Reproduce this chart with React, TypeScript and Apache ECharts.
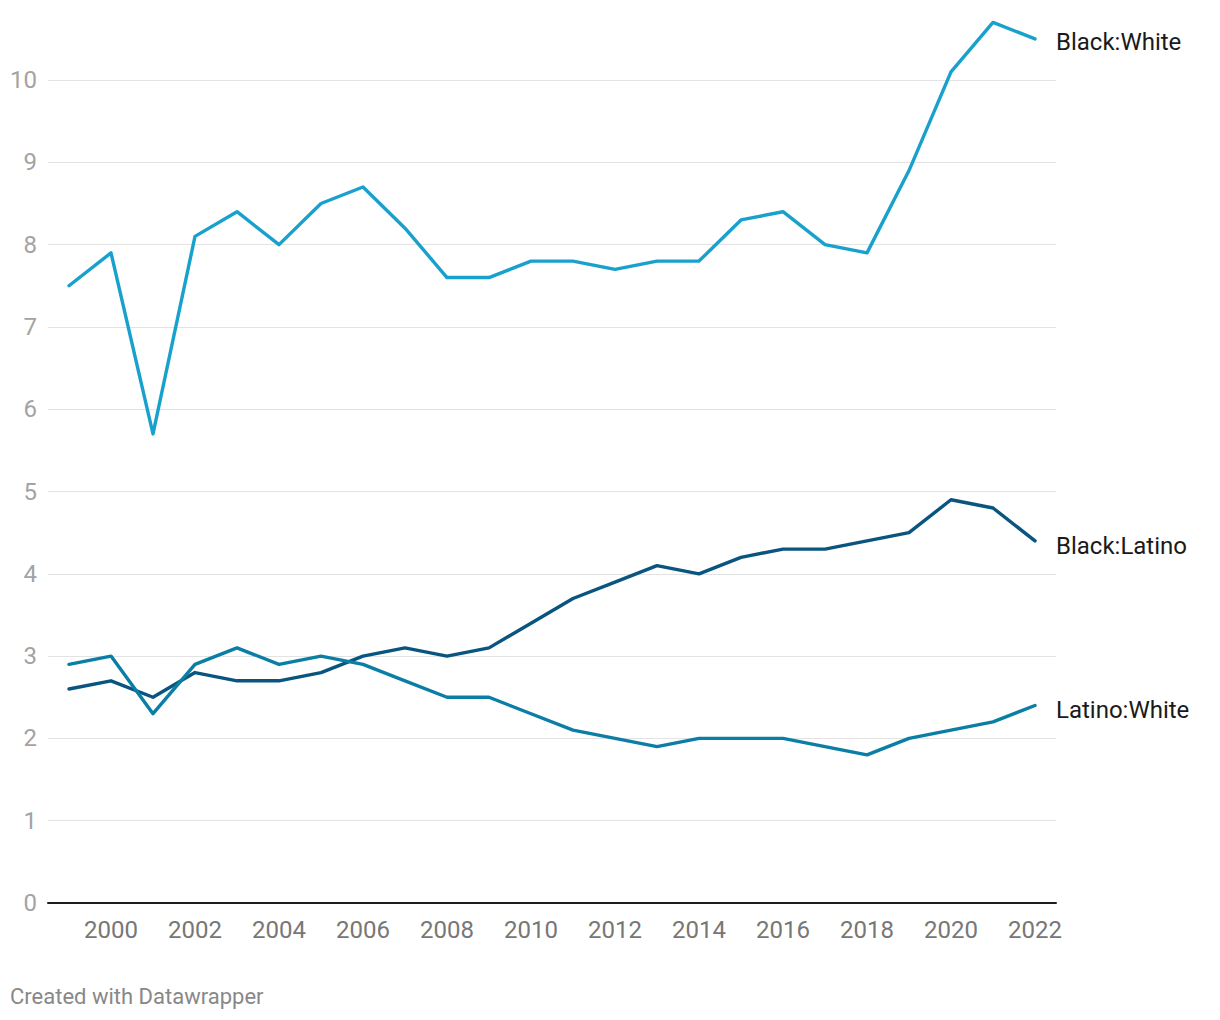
import React, { useEffect, useRef } from "react";
import * as echarts from "echarts";

const years = [1999, 2000, 2001, 2002, 2003, 2004, 2005, 2006, 2007, 2008, 2009, 2010, 2011, 2012, 2013, 2014, 2015, 2016, 2017, 2018, 2019, 2020, 2021, 2022];
const blackWhite = [7.5, 7.9, 5.7, 8.1, 8.4, 8.0, 8.5, 8.7, 8.2, 7.6, 7.6, 7.8, 7.8, 7.7, 7.8, 7.8, 8.3, 8.4, 8.0, 7.9, 8.9, 10.1, 10.7, 10.5];
const blackLatino = [2.6, 2.7, 2.5, 2.8, 2.7, 2.7, 2.8, 3.0, 3.1, 3.0, 3.1, 3.4, 3.7, 3.9, 4.1, 4.0, 4.2, 4.3, 4.3, 4.4, 4.5, 4.9, 4.8, 4.4];
const latinoWhite = [2.9, 3.0, 2.3, 2.9, 3.1, 2.9, 3.0, 2.9, 2.7, 2.5, 2.5, 2.3, 2.1, 2.0, 1.9, 2.0, 2.0, 2.0, 1.9, 1.8, 2.0, 2.1, 2.2, 2.4];
const seriesNames = ["Black:White", "Black:Latino", "Latino:White"];
const seriesColors = ["#18a1cd", "#09557f", "#0b7ea6"];
const labelOffsets = [[21, 3], [21, 5], [21, 5]];

export default function App() {
  const ref = useRef<HTMLDivElement>(null);
  useEffect(() => {
    if (!ref.current) return;
    const chart = echarts.init(ref.current, undefined, { renderer: "svg" });
    const data = [blackWhite, blackLatino, latinoWhite];
    chart.setOption({
      animation: false,
      textStyle: { fontFamily: "Roboto" },
      grid: { left: 48, right: 164, top: 14.2, bottom: 117, containLabel: false },
      xAxis: {
        type: "category",
        data: years.map(String),
        boundaryGap: true,
        axisLine: { show: true, lineStyle: { color: "#1d1d1d", width: 2 } },
        axisTick: { show: false },
        splitLine: { show: false },
        axisLabel: {
          interval: (i: number, v: string) => Number(v) % 2 === 0,
          color: "#777777",
          fontSize: 24,
          margin: 15,
          fontFamily: "Roboto",
        },
      },
      yAxis: {
        type: "value",
        min: 0,
        max: 10.8,
        interval: 1,
        axisLine: { show: false },
        axisTick: { show: false },
        splitLine: { show: true, showMaxLine: false, lineStyle: { color: "#e3e3e3", width: 1 } },
        axisLabel: {
          color: "#a3a3a3",
          fontSize: 24,
          margin: 11,
          showMaxLabel: false,
          fontFamily: "Roboto",
          formatter: (v: number) => (Number.isInteger(v) ? String(v) : ""),
        },
      },
      series: data.map((d, i) => ({
        name: seriesNames[i],
        type: "line",
        data: d,
        symbol: "none",
        z: i === 0 ? 3 : i === 1 ? 4 : 5,
        lineStyle: { color: seriesColors[i], width: 3.4, cap: "round", join: "round" },
        endLabel: {
          show: true,
          formatter: seriesNames[i],
          color: "#1a1a1a",
          fontSize: 24,
          fontFamily: "Roboto",
          distance: 0,
          offset: labelOffsets[i],
        },
      })),
      graphic: [
        {
          type: "text",
          left: 10,
          top: 985,
          style: { text: "Created with Datawrapper", fill: "#888888", fontSize: 22, fontFamily: "Roboto" },
        },
      ],
    });
    return () => chart.dispose();
  }, []);
  return <div ref={ref} style={{ position: "absolute", left: 0, top: 0, width: 1220, height: 1020 }} />;
}
